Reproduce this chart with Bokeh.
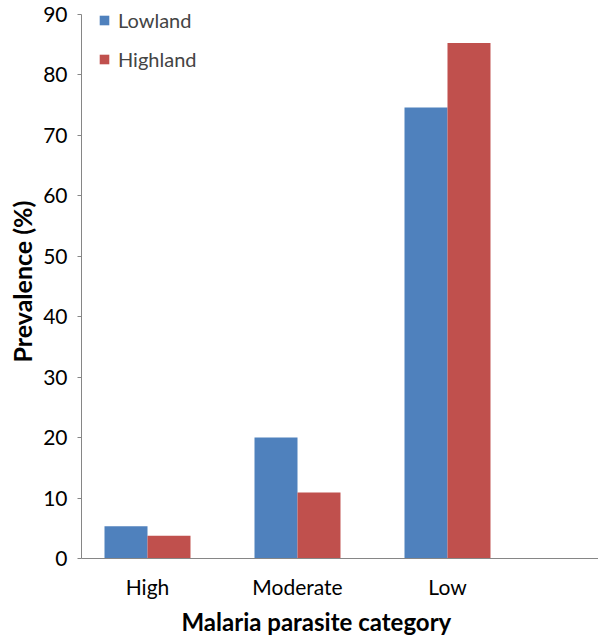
import numpy as np
from bokeh.plotting import figure
from bokeh.models import (ColumnDataSource, Range1d, FixedTicker, Legend, LegendItem, Title)
from bokeh.transform import dodge
from bokeh.embed import file_html
from bokeh.resources import INLINE

categories = ["High", "Moderate", "Low"]
lowland = [5.35, 20.0, 74.6]
highland = [3.75, 10.9, 85.3]
y_ticks = [0, 10, 20, 30, 40, 50, 60, 70, 80, 90]

FONT = "Lato"
BLUE = "#4F81BD"
RED = "#C0504D"
AXIS = "#868686"

src = ColumnDataSource(dict(x=list(range(len(categories))), cat=categories,
                            lowland=lowland, highland=highland))

p = figure(output_backend="svg", toolbar_location=None,
           frame_width=517, frame_height=558,
           min_border_left=81, min_border_right=0, min_border_top=0, min_border_bottom=83,
           x_range=Range1d(-0.44, 3.0067), y_range=Range1d(0, 90 * 558 / 544))

r1 = p.vbar(x=dodge("x", -0.1433, range=p.x_range), top="lowland", width=0.2867,
            source=src, fill_color=BLUE, line_color=None)
r2 = p.vbar(x=dodge("x", 0.1433, range=p.x_range), top="highland", width=0.2867,
            source=src, fill_color=RED, line_color=None)

p.outline_line_color = None
p.xgrid.visible = False
p.ygrid.visible = False

p.yaxis.ticker = FixedTicker(ticks=y_ticks)
p.yaxis.bounds = (0, 90)
p.yaxis.minor_tick_line_color = None
p.yaxis.major_tick_out = 4
p.yaxis.major_tick_in = 0
p.yaxis.axis_line_color = AXIS
p.yaxis.major_tick_line_color = AXIS
p.yaxis.major_label_text_font = FONT
p.yaxis.major_label_text_font_size = "21px"
p.yaxis.major_label_text_color = "black"
p.yaxis.major_label_standoff = 10

p.xaxis.ticker = FixedTicker(ticks=list(range(len(categories))))
p.xaxis.major_label_overrides = {i: c for i, c in enumerate(categories)}
p.xaxis.minor_tick_line_color = None
p.xaxis.major_tick_line_color = None
p.xaxis.axis_line_color = AXIS
p.xaxis.major_label_text_font = FONT
p.xaxis.major_label_text_font_size = "21px"
p.xaxis.major_label_text_color = "black"
p.xaxis.major_label_standoff = 9

legend = Legend(items=[LegendItem(label="Lowland", renderers=[r1]),
                       LegendItem(label="Highland", renderers=[r2])],
                location=(17, 487), padding=0, margin=0, spacing=15,
                glyph_width=12, glyph_height=12, label_height=24,
                label_standoff=8, label_text_font=FONT, label_text_font_size="20px",
                border_line_color=None, background_fill_alpha=0)
p.add_layout(legend)

p.add_layout(Title(text="Malaria  parasite category", align="left", offset=100,
                   text_font=FONT, text_font_style="bold", text_font_size="24px",
                   text_color="black", standoff=6), "below")
p.add_layout(Title(text="Prevalence (%)", align="left", offset=196,
                   text_font=FONT, text_font_style="bold", text_font_size="25px",
                   text_color="black", standoff=8), "left")

open("out.html", "w").write(file_html(p, INLINE))
